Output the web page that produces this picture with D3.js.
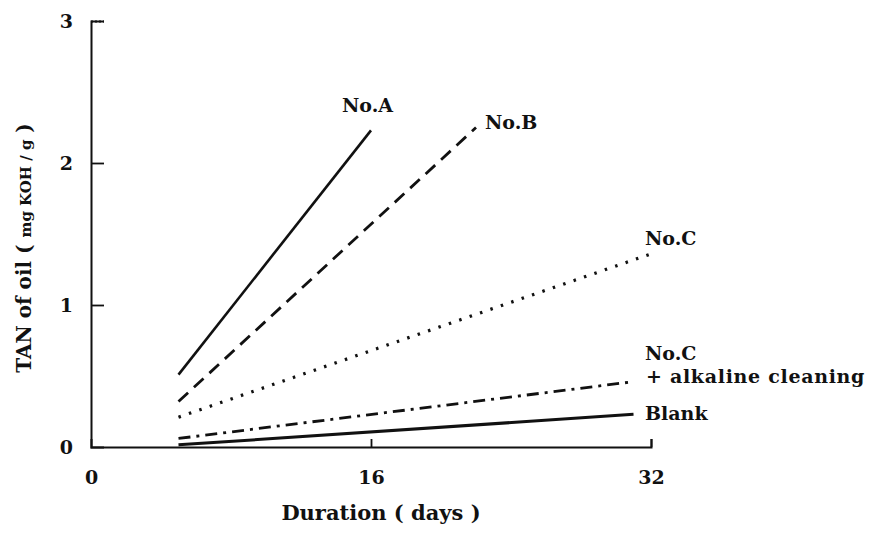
<!DOCTYPE html>
<html>
<head>
<meta charset="utf-8">
<script src="https://cdn.jsdelivr.net/npm/d3@7"></script>
<style>
  body { margin: 0; background: #fff; }
  svg { display: block; }
  text { font-family: "DejaVu Serif", "Liberation Serif", serif; fill: #111; }
</style>
</head>
<body>
<svg id="chart" width="869" height="535"></svg>
<script>
// ---- data ----
const seriesNames = ["No.A", "No.B", "No.C", "No.C + alkaline cleaning", "Blank"];
const daysA = [5, 16],  tanA = [0.51, 2.23];
const daysB = [5, 22],  tanB = [0.32, 2.25];
const daysC = [5, 32],  tanC = [0.21, 1.36];
const daysCA = [5, 31], tanCA = [0.06, 0.46];
const daysBl = [5, 31], tanBl = [0.015, 0.23];
const xTicks = [0, 16, 32];
const yTicks = [0, 1, 2, 3];

const svg = d3.select("#chart");
const x = d3.scaleLinear().domain([0, 32]).range([91, 651]);
const y = d3.scaleLinear().domain([0, 3]).range([447, 21]);

// axes
const gx = svg.append("g").attr("transform", `translate(0,${y(0)})`)
  .call(d3.axisBottom(x).tickValues(xTicks).tickSize(-8).tickPadding(24).tickFormat(d3.format("d")));
gx.select(".domain").attr("stroke", "#111").attr("stroke-width", 2);
gx.selectAll(".tick line").attr("stroke", "#111").attr("stroke-width", 1.8)
  .attr("opacity", d => d === 0 ? 0 : 1);
gx.selectAll(".tick text").style("font-size", "19px").style("font-weight", "bold")
  .style("font-family", "DejaVu Serif").attr("fill", "#111");

const gy = svg.append("g").attr("transform", `translate(${x(0)},0)`)
  .call(d3.axisLeft(y).tickValues(yTicks).tickSize(-13).tickPadding(18).tickFormat(d3.format("d")));
gy.select(".domain").attr("stroke", "#111").attr("stroke-width", 2);
gy.selectAll(".tick line").attr("stroke", "#111").attr("stroke-width", 1.8)
  .attr("opacity", d => d === 0 ? 0 : 1)
  .attr("stroke-dasharray", d => d === 3 ? "2,2" : null);
gy.selectAll(".tick text").style("font-size", "19px").style("font-weight", "bold")
  .style("font-family", "DejaVu Serif").attr("fill", "#111");

// series lines
const line = d3.line().x(d => x(d[0])).y(d => y(d[1]));
const series = [
  { days: daysA,  tan: tanA,  dash: null,            w: 2.6 },
  { days: daysB,  tan: tanB,  dash: "13,8",          w: 2.8 },
  { days: daysC,  tan: tanC,  dash: "2.5,8.5",       w: 3.2 },
  { days: daysCA, tan: tanCA, dash: "12,6,3,6",      w: 2.8 },
  { days: daysBl, tan: tanBl, dash: null,            w: 3 }
];
series.forEach((s, i) => {
  svg.append("path")
    .datum(s.days.map((d, j) => [d, s.tan[j]]))
    .attr("d", line)
    .attr("fill", "none")
    .attr("stroke", "#111")
    .attr("stroke-width", s.w)
    .attr("stroke-dasharray", s.dash);
});

// series labels
const lab = (t, px, py, ls) => svg.append("text").attr("x", px).attr("y", py)
  .style("font-size", "19px").style("font-weight", "bold")
  .style("letter-spacing", ls ? ls + "px" : null).text(t);
lab(seriesNames[0], 342, 112);
lab(seriesNames[1], 485, 129);
lab(seriesNames[2], 645, 245);
lab("No.C", 645, 360);
lab("+ alkaline cleaning", 646, 383, 0.7);
lab(seriesNames[4], 645, 420);

// axis titles
svg.append("text").attr("x", 381).attr("y", 520).attr("text-anchor", "middle")
  .style("font-size", "21px").style("font-weight", "bold").text("Duration ( days )");

const yt = svg.append("text")
  .attr("transform", "translate(31,248) rotate(-90)")
  .attr("text-anchor", "middle")
  .style("font-size", "20px").style("font-weight", "bold");
yt.append("tspan").text("TAN of oil ( ");
yt.append("tspan").style("font-size", "15px").text("mg KOH / g");
yt.append("tspan").text(" )");
</script>
</body>
</html>
